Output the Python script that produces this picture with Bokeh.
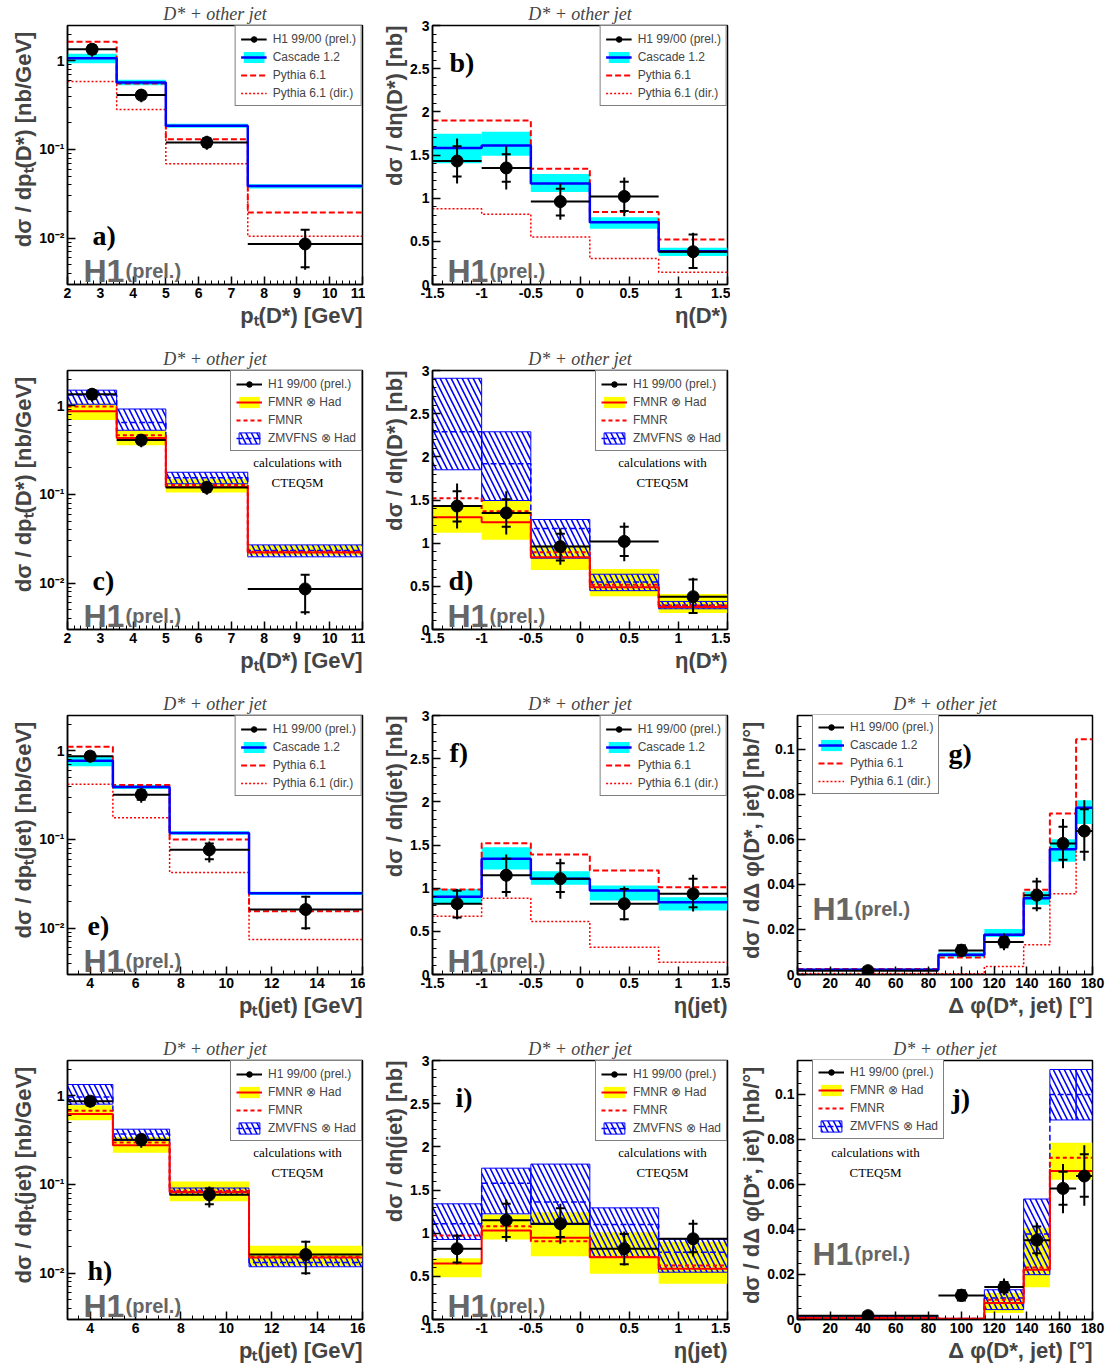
import numpy as np
from bokeh.plotting import figure
from bokeh.models import FixedTicker, Legend, LegendItem, Label, Title
from bokeh.layouts import column, row
from bokeh.embed import file_html
from bokeh.resources import INLINE

# ---------------- binning ----------------
PT_DSTAR_EDGES = [2.0, 3.5, 5.0, 7.5, 11.0]
ETA_DSTAR_EDGES = [-1.5, -1.0, -0.5, 0.1, 0.8, 1.5]
PT_JET_EDGES = [3.0, 5.0, 7.5, 11.0, 16.0]
ETA_JET_EDGES = [-1.5, -1.0, -0.5, 0.1, 0.8, 1.5]
DPHI_EDGES = [0.0, 86.0, 114.0, 138.0, 154.0, 170.0, 180.0]

# ---------------- pt(D*) ----------------
H1_PTD = [1.35, 0.41, 0.12, 0.0086]
H1_PTD_STAT_LO = [1.20, 0.37, 0.107, 0.0047]
H1_PTD_STAT_HI = [1.50, 0.45, 0.134, 0.0124]
H1_PTD_TOT_LO = [1.11, 0.34, 0.099, 0.0044]
H1_PTD_TOT_HI = [1.57, 0.48, 0.143, 0.0127]
CAS_PTD = [1.07, 0.57, 0.185, 0.0386]
CAS_PTD_LO = [0.94, 0.53, 0.176, 0.0362]
CAS_PTD_HI = [1.20, 0.61, 0.195, 0.0405]
PYT_PTD = [1.64, 0.555, 0.13, 0.0195]
PYTDIR_PTD = [0.585, 0.283, 0.069, 0.0105]
FMNRH_PTD = [0.87, 0.434, 0.121, 0.0222]
FMNRH_PTD_LO = [0.69, 0.36, 0.105, 0.0205]
FMNRH_PTD_HI = [1.06, 0.53, 0.15, 0.0267]
FMNR_PTD = [0.98, 0.466, 0.128, 0.0226]
ZMV_PTD = [1.32, 0.65, 0.154, 0.0233]
ZMV_PTD_LO = [1.04, 0.53, 0.132, 0.0198]
ZMV_PTD_HI = [1.50, 0.92, 0.178, 0.027]

# ---------------- eta(D*) ----------------
H1_ETAD = [1.43, 1.35, 0.96, 1.02, 0.38]
H1_ETAD_STAT_LO = [1.25, 1.19, 0.80, 0.85, 0.19]
H1_ETAD_STAT_HI = [1.60, 1.51, 1.11, 1.19, 0.58]
H1_ETAD_TOT_LO = [1.17, 1.10, 0.75, 0.79, 0.18]
H1_ETAD_TOT_HI = [1.69, 1.60, 1.17, 1.24, 0.60]
CAS_ETAD = [1.58, 1.61, 1.17, 0.72, 0.386]
CAS_ETAD_LO = [1.405, 1.49, 1.07, 0.645, 0.33]
CAS_ETAD_HI = [1.745, 1.77, 1.28, 0.78, 0.425]
PYT_ETAD = [1.90, 1.90, 1.34, 0.84, 0.52]
PYTDIR_ETAD = [0.876, 0.815, 0.55, 0.30, 0.143]
FMNRH_ETAD = [1.30, 1.243, 0.838, 0.49, 0.26]
FMNRH_ETAD_LO = [1.12, 1.04, 0.69, 0.386, 0.19]
FMNRH_ETAD_HI = [1.436, 1.494, 0.973, 0.70, 0.41]
FMNR_ETAD = [1.52, 1.37, 0.896, 0.517, 0.278]
ZMV_ETAD = [2.29, 1.92, 1.17, 0.55, 0.28]
ZMV_ETAD_LO = [1.85, 1.494, 0.826, 0.45, 0.24]
ZMV_ETAD_HI = [2.91, 2.29, 1.274, 0.64, 0.325]

# ---------------- pt(jet) ----------------
H1_PTJ = [0.87, 0.32, 0.0764, 0.0162]
H1_PTJ_STAT_LO = [0.78, 0.28, 0.060, 0.0100]
H1_PTJ_STAT_HI = [0.96, 0.36, 0.090, 0.0226]
H1_PTJ_TOT_LO = [0.74, 0.26, 0.055, 0.0096]
H1_PTJ_TOT_HI = [0.99, 0.38, 0.095, 0.0232]
CAS_PTJ = [0.77, 0.39, 0.118, 0.0247]
CAS_PTJ_LO = [0.67, 0.37, 0.113, 0.0237]
CAS_PTJ_HI = [0.87, 0.41, 0.124, 0.0257]
PYT_PTJ = [1.11, 0.41, 0.100, 0.0155]
PYTDIR_PTJ = [0.42, 0.176, 0.0423, 0.00745]
FMNRH_PTJ = [0.625, 0.277, 0.0819, 0.0150]
FMNRH_PTJ_LO = [0.53, 0.228, 0.0646, 0.0121]
FMNRH_PTJ_HI = [0.784, 0.343, 0.108, 0.0203]
FMNR_PTJ = [0.68, 0.297, 0.0848, 0.0153]
ZMV_PTJ = [0.97, 0.37, 0.083, 0.0132]
ZMV_PTJ_LO = [0.805, 0.315, 0.0768, 0.0118]
ZMV_PTJ_HI = [1.34, 0.42, 0.0912, 0.0150]

# ---------------- eta(jet) ----------------
H1_ETAJ = [0.82, 1.15, 1.11, 0.82, 0.935]
H1_ETAJ_STAT_LO = [0.66, 0.955, 0.955, 0.64, 0.78]
H1_ETAJ_STAT_HI = [0.97, 1.34, 1.29, 0.99, 1.11]
H1_ETAJ_TOT_LO = [0.64, 0.90, 0.876, 0.625, 0.73]
H1_ETAJ_TOT_HI = [0.99, 1.39, 1.34, 1.02, 1.155]
CAS_ETAJ = [0.90, 1.34, 1.11, 0.973, 0.838]
CAS_ETAJ_LO = [0.82, 1.216, 1.04, 0.857, 0.74]
CAS_ETAJ_HI = [0.99, 1.475, 1.197, 1.03, 0.896]
PYT_ETAJ = [0.985, 1.52, 1.39, 1.205, 1.01]
PYTDIR_ETAJ = [0.676, 0.884, 0.614, 0.317, 0.143]
FMNRH_ETAJ = [0.65, 1.03, 0.946, 0.72, 0.587]
FMNRH_ETAJ_LO = [0.49, 0.927, 0.734, 0.529, 0.413]
FMNRH_ETAJ_HI = [0.71, 1.216, 1.243, 1.01, 0.90]
FMNR_ETAJ = [0.973, 1.08, 0.907, 0.725, 0.625]
ZMV_ETAJ = [1.108, 1.579, 1.36, 1.10, 0.78]
ZMV_ETAJ_LO = [0.927, 1.224, 1.10, 0.72, 0.548]
ZMV_ETAJ_HI = [1.34, 1.753, 1.80, 1.293, 0.93]

# ---------------- delta phi ----------------
H1_DPHI = [0.0017, 0.0107, 0.0144, 0.0352, 0.0582, 0.0637]
H1_DPHI_STAT_LO = [0.0012, 0.0084, 0.0121, 0.0294, 0.0509, 0.0545]
H1_DPHI_STAT_HI = [0.0022, 0.0130, 0.0167, 0.0413, 0.0656, 0.0734]
H1_DPHI_TOT_LO = [0.0011, 0.0080, 0.0108, 0.0281, 0.0472, 0.0505]
H1_DPHI_TOT_HI = [0.0023, 0.0137, 0.0182, 0.0430, 0.0690, 0.0774]
CAS_DPHI = [0.0021, 0.0088, 0.0176, 0.0339, 0.0556, 0.0740]
CAS_DPHI_LO = [0.0015, 0.0077, 0.0166, 0.0310, 0.0501, 0.0668]
CAS_DPHI_HI = [0.0027, 0.0098, 0.0202, 0.0368, 0.0600, 0.0774]
PYT_DPHI = [0.0024, 0.0076, 0.0177, 0.0376, 0.0715, 0.1044]
PYTDIR_DPHI = [0.0004, 0.0003, 0.0036, 0.0132, 0.0358, 0.0649]
FMNRH_DPHI = [0.0007, 0.0003, 0.0073, 0.0221, 0.0659, 0.0659]
FMNRH_DPHI_LO = [0.0004, 0.0001, 0.0029, 0.0143, 0.0620, 0.0620]
FMNRH_DPHI_HI = [0.0010, 0.0006, 0.0118, 0.0405, 0.0785, 0.0785]
FMNR_DPHI = [0.0006, 0.0003, 0.0088, 0.0231, 0.0718, 0.0718]
ZMV_DPHI = [0.0008, 0.0002, 0.0095, 0.0380, 0.0999, 0.0999]
ZMV_DPHI_LO = [0.0004, -0.0003, 0.0044, 0.0199, 0.0886, 0.0886]
ZMV_DPHI_HI = [0.0012, 0.0005, 0.0132, 0.0535, 0.1110, 0.1110]

# ---------------- ticks ----------------
LOG_TICKS = [0.01, 0.1, 1.0]
LOG_TICK_LABELS = ["10\u207b\u00b2", "10\u207b\u00b9", "1"]
LOG_MINOR = [k * 10.0 ** e for e in (-3, -2, -1, 0) for k in range(2, 10)]
XS_TICKS = [0, 0.5, 1, 1.5, 2, 2.5, 3]
XS_TICK_LABELS = ["0", "0.5", "1", "1.5", "2", "2.5", "3"]
ETA_TICKS = [-1.5, -1, -0.5, 0, 0.5, 1, 1.5]
ETA_TICK_LABELS = ["-1.5", "-1", "-0.5", "0", "0.5", "1", "1.5"]
PTD_TICKS = [2, 3, 4, 5, 6, 7, 8, 9, 10, 11]
PTD_TICK_LABELS = ["2", "3", "4", "5", "6", "7", "8", "9", "10", "11"]
PTJ_TICKS = [4, 6, 8, 10, 12, 14, 16]
PTJ_TICK_LABELS = ["4", "6", "8", "10", "12", "14", "16"]
DPHI_TICKS = [0, 20, 40, 60, 80, 100, 120, 140, 160, 180]
DPHI_TICK_LABELS = ["0", "20", "40", "60", "80", "100", "120", "140", "160", "180"]
DPHI_Y_TICKS = [0, 0.02, 0.04, 0.06, 0.08, 0.1]
DPHI_Y_TICK_LABELS = ["0", "0.02", "0.04", "0.06", "0.08", "0.1"]

TITLE = "D* + other jet"
FIG_W = 365
FIG_W_LAST = 375
ROW_H = [345, 345, 345, 330]
TOP_B = 25
FRAME_W = 295
FRAME_H = 259
SANS = "Liberation Sans"
SERIF = "Liberation Serif"
CYAN, BLUE, RED, YELLOW = "#00FFFF", "#0000FF", "#FF0000", "#FFFF00"
H1_GREY = "#666666"


def style_axis(ax, ticks, labels, minor):
    ax.ticker = FixedTicker(ticks=ticks, minor_ticks=minor)
    ax.major_label_overrides = dict(zip(ticks, labels))
    ax.major_tick_in = 8
    ax.major_tick_out = 0
    ax.minor_tick_in = 4
    ax.minor_tick_out = 0
    ax.major_tick_line_width = 1.5
    ax.minor_tick_line_width = 1
    ax.axis_line_width = 1.5
    ax.major_label_standoff = 3
    ax.major_label_text_font = SANS
    ax.major_label_text_font_style = "bold"
    ax.major_label_text_font_size = "14px"
    ax.major_label_text_color = "black"


def base_fig(h, xr, yr, ylog, xt, xl, xm, yt, yl, ym, xtitle, ytitle, w=FIG_W):
    p = figure(width=w, height=h, x_range=xr, y_range=yr,
               y_axis_type="log" if ylog else "linear",
               output_backend="svg", toolbar_location=None,
               min_border_left=67, min_border_right=w - 67 - FRAME_W,
               min_border_top=TOP_B, min_border_bottom=h - TOP_B - FRAME_H, title=TITLE)
    p.title.text_font = SERIF
    p.title.text_font_style = "italic"
    p.title.text_font_size = "18px"
    p.title.align = "center"
    p.title.offset = -12
    p.title.standoff = 3
    p.grid.visible = False
    p.outline_line_color = "black"
    p.outline_line_width = 1.5
    p.outline_line_alpha = 1
    p.background_fill_color = "white"
    p.border_fill_color = "white"
    style_axis(p.xaxis[0], xt, xl, xm)
    style_axis(p.yaxis[0], yt, yl, ym)
    p.add_layout(Title(text=xtitle, align="right", text_font=SANS, text_font_style="bold",
                       text_font_size="22px", standoff=0), "below")
    p.add_layout(Title(text=ytitle, align="right", text_font=SANS, text_font_style="bold",
                       text_font_size="22px", standoff=2), "left")
    return p


def hist(p, edges, vals, color, width, dash="solid"):
    ys = list(vals) + [vals[-1]]
    return p.step(list(edges), ys, mode="after", line_color=color, line_width=width,
                  line_dash=dash)


def band(p, edges, lo, hi, color):
    return p.quad(left=edges[:-1], right=edges[1:], bottom=lo, top=hi,
                  fill_color=color, line_color=None)


def hatch_band(p, edges, lo, hi):
    return p.quad(left=edges[:-1], right=edges[1:], bottom=lo, top=hi,
                  fill_alpha=0, line_color=BLUE, line_width=1,
                  hatch_pattern="\\", hatch_color=BLUE, hatch_scale=11, hatch_weight=1.6)


def data_pts(p, edges, y, slo, shi, tlo, thi):
    cx = [(a + b) / 2 for a, b in zip(edges[:-1], edges[1:])]
    hbar = p.segment(x0=edges[:-1], x1=edges[1:], y0=y, y1=y, line_color="black", line_width=2)
    p.segment(x0=cx, x1=cx, y0=tlo, y1=thi, line_color="black", line_width=2)
    p.scatter(cx + cx, list(slo) + list(shi), marker="dash", size=9,
              line_color="black", line_width=2)
    circ = p.scatter(cx, y, size=12, fill_color="black", line_color="black")
    return [hbar, circ]


LEG_H = 79


def add_legend(p, items, loc):
    leg = Legend(items=[LegendItem(label=l, renderers=r) for l, r in items],
                 location=loc, margin=0, padding=5, spacing=3,
                 label_height=15, glyph_height=14, glyph_width=26, label_standoff=6,
                 label_text_font=SANS, label_text_font_size="12px",
                 border_line_color="black", border_line_width=1,
                 background_fill_color="white", background_fill_alpha=1)
    p.add_layout(leg)


def txt(p, x, y, text, font, size, style="normal", color="black", align="left",
        baseline="alphabetic"):
    p.add_layout(Label(x=x, y=y, x_units="screen", y_units="screen", text=text,
                       text_font=font, text_font_size=size, text_font_style=style,
                       text_color=color, text_align=align, text_baseline=baseline))


def h1_mark(p, x, y):
    txt(p, x, y, "H1", SANS, "32px", "bold", H1_GREY)
    txt(p, x + 42, y, "(prel.)", SANS, "20px", "bold", H1_GREY)


def letter(p, x, y, s):
    txt(p, x, y, s, SERIF, "28px", "bold")


def cteq(p, x):
    txt(p, x, 167, "calculations with", SERIF, "13px", align="center", baseline="middle")
    txt(p, x, 147, "CTEQ5M", SERIF, "13px", align="center", baseline="middle")


def mc_panel(p, edges, cas, cas_lo, cas_hi, pyt, pytdir):
    b = band(p, edges, cas_lo, cas_hi, CYAN)
    pd = hist(p, edges, pytdir, RED, 1.5, "2 2")
    pp = hist(p, edges, pyt, RED, 2, "6 3")
    c = hist(p, edges, cas, BLUE, 2.5)
    return [("Cascade 1.2", [b, c]), ("Pythia 6.1", [pp]), ("Pythia 6.1 (dir.)", [pd])]


def nlo_panel(p, edges, fh, fh_lo, fh_hi, f, z, z_lo, z_hi):
    yb = band(p, edges, fh_lo, fh_hi, YELLOW)
    zb = hatch_band(p, edges, z_lo, z_hi)
    zl = hist(p, edges, z, BLUE, 1.5, "6 3")
    fl = hist(p, edges, fh, RED, 2)
    fd = hist(p, edges, f, RED, 2, "4 3")
    return [("FMNR \u2297 Had", [yb, fl]), ("FMNR", [fd]), ("ZMVFNS \u2297 Had", [zb, zl])]


PTD_MINOR = list(np.arange(2.0, 11.01, 0.2))
PTJ_MINOR = list(np.arange(3.0, 16.01, 0.5))
ETA_MINOR = list(np.arange(-1.5, 1.51, 0.1))
XS_MINOR = list(np.arange(0.0, 3.01, 0.1))
DPHI_MINOR = list(np.arange(0.0, 180.1, 5.0))
DPHI_Y_MINOR = list(np.arange(0.0, 0.1151, 0.005))

YL_PTD = "d\u03c3 / dp\u209c(D*)  [nb/GeV]"
YL_ETAD = "d\u03c3 / d\u03b7(D*) [nb]"
YL_PTJ = "d\u03c3 / dp\u209c(jet)  [nb/GeV]"
YL_ETAJ = "d\u03c3 / d\u03b7(jet) [nb]"
YL_DPHI = "d\u03c3 / d\u0394 \u03c6(D*, jet)  [nb/\u00b0]"
XL_PTD = "p\u209c(D*) [GeV]"
XL_ETAD = "\u03b7(D*)"
XL_PTJ = "p\u209c(jet) [GeV]"
XL_ETAJ = "\u03b7(jet)"
XL_DPHI = "\u0394 \u03c6(D*, jet) [\u00b0]"


def fig_ptd(h):
    return base_fig(h, (2, 11), (0.003, 2.5), True, PTD_TICKS, PTD_TICK_LABELS, PTD_MINOR,
                    LOG_TICKS, LOG_TICK_LABELS, LOG_MINOR, XL_PTD, YL_PTD)


def fig_etad(h):
    return base_fig(h, (-1.5, 1.5), (0, 3), False, ETA_TICKS, ETA_TICK_LABELS, ETA_MINOR,
                    XS_TICKS, XS_TICK_LABELS, XS_MINOR, XL_ETAD, YL_ETAD)


def fig_ptj(h):
    return base_fig(h, (3, 16), (0.003, 2.5), True, PTJ_TICKS, PTJ_TICK_LABELS, PTJ_MINOR,
                    LOG_TICKS, LOG_TICK_LABELS, LOG_MINOR, XL_PTJ, YL_PTJ)


def fig_etaj(h):
    return base_fig(h, (-1.5, 1.5), (0, 3), False, ETA_TICKS, ETA_TICK_LABELS, ETA_MINOR,
                    XS_TICKS, XS_TICK_LABELS, XS_MINOR, XL_ETAJ, YL_ETAJ)


def fig_dphi(h):
    return base_fig(h, (0, 180), (0, 0.115), False, DPHI_TICKS, DPHI_TICK_LABELS, DPHI_MINOR,
                    DPHI_Y_TICKS, DPHI_Y_TICK_LABELS, DPHI_Y_MINOR, XL_DPHI, YL_DPHI,
                    w=FIG_W_LAST)


DATA_LABEL = "H1 99/00 (prel.)"

# a)
pa = fig_ptd(ROW_H[0])
it = mc_panel(pa, PT_DSTAR_EDGES, CAS_PTD, CAS_PTD_LO, CAS_PTD_HI, PYT_PTD, PYTDIR_PTD)
d = data_pts(pa, PT_DSTAR_EDGES, H1_PTD, H1_PTD_STAT_LO, H1_PTD_STAT_HI, H1_PTD_TOT_LO, H1_PTD_TOT_HI)
add_legend(pa, [(DATA_LABEL, d)] + it, "top_right")
letter(pa, 25, 49, "a)")
h1_mark(pa, 16, 14)

# b)
pb = fig_etad(ROW_H[0])
it = mc_panel(pb, ETA_DSTAR_EDGES, CAS_ETAD, CAS_ETAD_LO, CAS_ETAD_HI, PYT_ETAD, PYTDIR_ETAD)
d = data_pts(pb, ETA_DSTAR_EDGES, H1_ETAD, H1_ETAD_STAT_LO, H1_ETAD_STAT_HI, H1_ETAD_TOT_LO, H1_ETAD_TOT_HI)
add_legend(pb, [(DATA_LABEL, d)] + it, "top_right")
letter(pb, 17, 222, "b)")
h1_mark(pb, 15, 14)

# c)
pc = fig_ptd(ROW_H[1])
it = nlo_panel(pc, PT_DSTAR_EDGES, FMNRH_PTD, FMNRH_PTD_LO, FMNRH_PTD_HI, FMNR_PTD, ZMV_PTD, ZMV_PTD_LO, ZMV_PTD_HI)
d = data_pts(pc, PT_DSTAR_EDGES, H1_PTD, H1_PTD_STAT_LO, H1_PTD_STAT_HI, H1_PTD_TOT_LO, H1_PTD_TOT_HI)
add_legend(pc, [(DATA_LABEL, d)] + it, "top_right")
letter(pc, 25, 49, "c)")
h1_mark(pc, 16, 14)
cteq(pc, 230)

# d)
pd_ = fig_etad(ROW_H[1])
it = nlo_panel(pd_, ETA_DSTAR_EDGES, FMNRH_ETAD, FMNRH_ETAD_LO, FMNRH_ETAD_HI, FMNR_ETAD, ZMV_ETAD, ZMV_ETAD_LO, ZMV_ETAD_HI)
d = data_pts(pd_, ETA_DSTAR_EDGES, H1_ETAD, H1_ETAD_STAT_LO, H1_ETAD_STAT_HI, H1_ETAD_TOT_LO, H1_ETAD_TOT_HI)
add_legend(pd_, [(DATA_LABEL, d)] + it, "top_right")
letter(pd_, 16, 49, "d)")
h1_mark(pd_, 15, 14)
cteq(pd_, 230)

# e)
pe = fig_ptj(ROW_H[2])
it = mc_panel(pe, PT_JET_EDGES, CAS_PTJ, CAS_PTJ_LO, CAS_PTJ_HI, PYT_PTJ, PYTDIR_PTJ)
d = data_pts(pe, PT_JET_EDGES, H1_PTJ, H1_PTJ_STAT_LO, H1_PTJ_STAT_HI, H1_PTJ_TOT_LO, H1_PTJ_TOT_HI)
add_legend(pe, [(DATA_LABEL, d)] + it, "top_right")
letter(pe, 20, 49, "e)")
h1_mark(pe, 16, 14)

# f)
pf = fig_etaj(ROW_H[2])
it = mc_panel(pf, ETA_JET_EDGES, CAS_ETAJ, CAS_ETAJ_LO, CAS_ETAJ_HI, PYT_ETAJ, PYTDIR_ETAJ)
d = data_pts(pf, ETA_JET_EDGES, H1_ETAJ, H1_ETAJ_STAT_LO, H1_ETAJ_STAT_HI, H1_ETAJ_TOT_LO, H1_ETAJ_TOT_HI)
add_legend(pf, [(DATA_LABEL, d)] + it, "top_right")
letter(pf, 17, 222, "f)")
h1_mark(pf, 15, 14)

# g)
pg = fig_dphi(ROW_H[2])
it = mc_panel(pg, DPHI_EDGES, CAS_DPHI, CAS_DPHI_LO, CAS_DPHI_HI, PYT_DPHI, PYTDIR_DPHI)
d = data_pts(pg, DPHI_EDGES, H1_DPHI, H1_DPHI_STAT_LO, H1_DPHI_STAT_HI, H1_DPHI_TOT_LO, H1_DPHI_TOT_HI)
add_legend(pg, [(DATA_LABEL, d)] + it, (15, FRAME_H - LEG_H))
letter(pg, 151, 221, "g)")
h1_mark(pg, 15, 66)

# h)
ph = fig_ptj(ROW_H[3])
it = nlo_panel(ph, PT_JET_EDGES, FMNRH_PTJ, FMNRH_PTJ_LO, FMNRH_PTJ_HI, FMNR_PTJ, ZMV_PTJ, ZMV_PTJ_LO, ZMV_PTJ_HI)
d = data_pts(ph, PT_JET_EDGES, H1_PTJ, H1_PTJ_STAT_LO, H1_PTJ_STAT_HI, H1_PTJ_TOT_LO, H1_PTJ_TOT_HI)
add_legend(ph, [(DATA_LABEL, d)] + it, "top_right")
letter(ph, 20, 49, "h)")
h1_mark(ph, 16, 14)
cteq(ph, 230)

# i)
pi = fig_etaj(ROW_H[3])
it = nlo_panel(pi, ETA_JET_EDGES, FMNRH_ETAJ, FMNRH_ETAJ_LO, FMNRH_ETAJ_HI, FMNR_ETAJ, ZMV_ETAJ, ZMV_ETAJ_LO, ZMV_ETAJ_HI)
d = data_pts(pi, ETA_JET_EDGES, H1_ETAJ, H1_ETAJ_STAT_LO, H1_ETAJ_STAT_HI, H1_ETAJ_TOT_LO, H1_ETAJ_TOT_HI)
add_legend(pi, [(DATA_LABEL, d)] + it, "top_right")
letter(pi, 23, 222, "i)")
h1_mark(pi, 15, 14)
cteq(pi, 230)

# j)
pj = fig_dphi(ROW_H[3])
it = nlo_panel(pj, DPHI_EDGES, FMNRH_DPHI, FMNRH_DPHI_LO, FMNRH_DPHI_HI, FMNR_DPHI, ZMV_DPHI, ZMV_DPHI_LO, ZMV_DPHI_HI)
d = data_pts(pj, DPHI_EDGES, H1_DPHI, H1_DPHI_STAT_LO, H1_DPHI_STAT_HI, H1_DPHI_TOT_LO, H1_DPHI_TOT_HI)
add_legend(pj, [(DATA_LABEL, d)] + it, (15, FRAME_H - LEG_H))
letter(pj, 154, 221, "j)")
h1_mark(pj, 15, 66)
cteq(pj, 78)

layout = column(row(pa, pb), row(pc, pd_), row(pe, pf, pg), row(ph, pi, pj))
open("out.html", "w").write(file_html(layout, INLINE))
